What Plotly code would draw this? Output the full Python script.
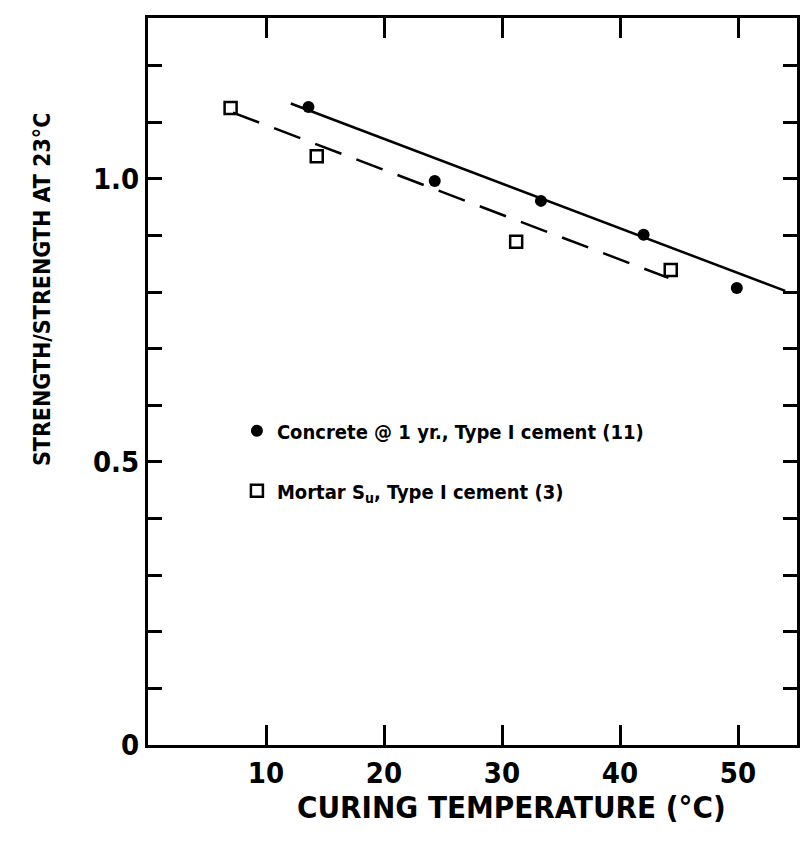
import plotly.graph_objects as go

# Measured strength ratios
concrete_temp = [13.6, 24.3, 33.3, 42.0, 49.9]
concrete_ratio = [1.127, 0.996, 0.961, 0.901, 0.807]

mortar_temp = [7.0, 14.3, 31.2, 44.3]
mortar_ratio = [1.125, 1.040, 0.889, 0.839]

# Trend lines (end points)
concrete_fit_temp = [12.1, 54.0]
concrete_fit_ratio = [1.133, 0.802]
mortar_fit_temp = [7.2, 44.1]
mortar_fit_ratio = [1.117, 0.825]

x_ticks = [10, 20, 30, 40, 50]
y_ticks = [0.0, 0.5, 1.0]
y_tick_text = ["0", "0.5", "1.0"]

FONT = "Liberation Sans Narrow, DejaVu Sans Condensed, Arial Narrow, sans-serif"

fig = go.Figure()

fig.add_trace(go.Scatter(
    x=concrete_fit_temp, y=concrete_fit_ratio, mode="lines",
    line=dict(color="black", width=2.5), showlegend=False, hoverinfo="skip"))
fig.add_trace(go.Scatter(
    x=mortar_fit_temp, y=mortar_fit_ratio, mode="lines",
    line=dict(color="black", width=2.5, dash="28px,16px"), showlegend=False,
    hoverinfo="skip"))

fig.add_trace(go.Scatter(
    x=concrete_temp, y=concrete_ratio, mode="markers",
    name="Concrete @ 1 yr., Type I cement (11)", legendgroup="concrete",
    marker=dict(symbol="circle", size=12, color="black")))
fig.add_trace(go.Scatter(
    x=mortar_temp, y=mortar_ratio, mode="markers",
    name="Mortar S<sub>u</sub>, Type I cement (3)", legendgroup="mortar",
    marker=dict(symbol="square-open", size=12, color="black",
                line=dict(width=2.5, color="black"))))

fig.update_layout(
    width=809, height=857,
    margin=dict(l=148, r=9, t=18, b=112),
    paper_bgcolor="white", plot_bgcolor="white",
    font=dict(family=FONT, color="black", size=26, weight="bold"),
    legend=dict(x=0.137, y=0.459, xanchor="left", yanchor="top",
                bgcolor="rgba(0,0,0,0)",
                font=dict(size=20, family=FONT, weight="bold"),
                traceorder="grouped", tracegroupgap=31, itemwidth=30),
    xaxis=dict(
        range=[0, 55], tickvals=x_ticks, ticktext=[str(v) for v in x_ticks],
        ticks="inside", ticklen=20, tickwidth=2.5, tickcolor="black",
        showline=True, linewidth=3, linecolor="black", mirror="ticks",
        showgrid=False, zeroline=False,
        tickfont=dict(size=29, family=FONT, weight="bold"),
    ),
    yaxis=dict(
        range=[0, 1.284], tickvals=y_ticks, ticktext=y_tick_text,
        ticks="inside", ticklen=14, tickwidth=2.5, tickcolor="black",
        minor=dict(dtick=0.1, ticks="inside", ticklen=14, tickwidth=2.5,
                   tickcolor="black", showgrid=False),
        showline=True, linewidth=3, linecolor="black", mirror="ticks",
        showgrid=False, zeroline=False,
        tickfont=dict(size=29, family=FONT, weight="bold"),
    ),
    annotations=[
        dict(text="CURING TEMPERATURE (°C)", xref="paper", yref="paper",
             x=0.56, y=-0.085, xanchor="center", yanchor="middle",
             showarrow=False, font=dict(size=31, family=FONT, weight="bold")),
        dict(text="STRENGTH/STRENGTH AT 23°C", xref="paper", yref="paper",
             x=-0.163, y=0.626, xanchor="center", yanchor="middle",
             textangle=-90, showarrow=False,
             font=dict(size=23, family=FONT, weight="bold")),
    ],
)

fig.write_html("out.html")
